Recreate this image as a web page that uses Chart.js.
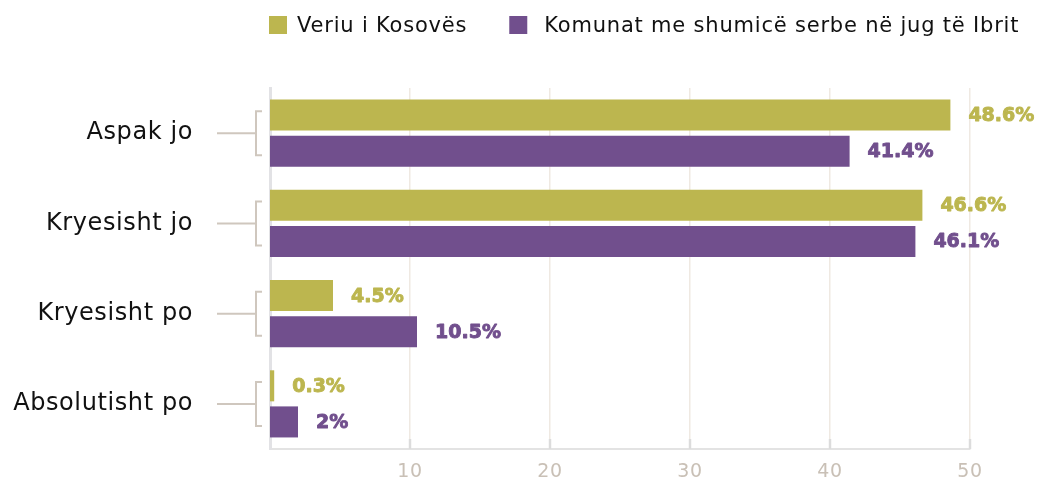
<!DOCTYPE html>
<html>
<head>
<meta charset="utf-8">
<script src="https://cdn.jsdelivr.net/npm/chart.js@4/dist/chart.umd.min.js"></script>
<style>
  html, body { margin: 0; padding: 0; background: #ffffff; overflow: hidden; }
  #wrap { position: relative; width: 1040px; height: 479px; }
</style>
</head>
<body>
<div id="wrap"><canvas id="c"></canvas></div>
<script>
const categories = ['Aspak jo', 'Kryesisht jo', 'Kryesisht po', 'Absolutisht po'];
const seriesNames = ['Veriu i Kosovës', 'Komunat me shumicë serbe në jug të Ibrit'];
const veriuValues = [48.6, 46.6, 4.5, 0.3];
const jugValues = [41.4, 46.1, 10.5, 2];
const xTickValues = [10, 20, 30, 40, 50];

const GREEN = '#bcb64f';
const PURPLE = '#714f8d';
const FONT = "'DejaVu Sans', sans-serif";

const spacingPlugin = {
  id: 'spacing',
  beforeDraw(chart) { chart.ctx.letterSpacing = '0.6px'; },
  beforeDatasetsDraw(chart) { chart.ctx.letterSpacing = '0px'; }
};

const decorPlugin = {
  id: 'decor',
  beforeDatasetsDraw(chart) {
    const ctx = chart.ctx, x = chart.scales.x, area = chart.chartArea;
    ctx.save();
    ctx.strokeStyle = '#dcdcdc';
    ctx.lineWidth = 2.5;
    xTickValues.forEach(v => {
      const px = x.getPixelForValue(v);
      ctx.beginPath();
      ctx.moveTo(px, area.bottom - 10);
      ctx.lineTo(px, area.bottom);
      ctx.stroke();
    });
    ctx.restore();
  },
  afterDraw(chart) {
    const ctx = chart.ctx, y = chart.scales.y;
    ctx.save();
    ctx.strokeStyle = '#cfc7be';
    ctx.lineWidth = 2;
    categories.forEach((c, i) => {
      const yc = y.getPixelForValue(i);
      ctx.beginPath();
      ctx.moveTo(217, yc); ctx.lineTo(256, yc);
      ctx.moveTo(262, yc - 22); ctx.lineTo(256, yc - 22);
      ctx.lineTo(256, yc + 22); ctx.lineTo(262, yc + 22);
      ctx.stroke();
    });
    ctx.restore();
  }
};

const valueLabelPlugin = {
  id: 'valueLabels',
  afterDatasetsDraw(chart) {
    const ctx = chart.ctx;
    ctx.save();
    ctx.letterSpacing = '0px';
    ctx.font = "bold 19px " + FONT;
    ctx.textAlign = 'left';
    ctx.textBaseline = 'middle';
    ctx.lineWidth = 0.9;
    ctx.lineJoin = 'round';
    chart.data.datasets.forEach((ds, di) => {
      const meta = chart.getDatasetMeta(di);
      ctx.fillStyle = ds.backgroundColor;
      ctx.strokeStyle = ds.backgroundColor;
      meta.data.forEach((bar, i) => {
        const t = ds.data[i] + '%';
        ctx.fillText(t, bar.x + 18, bar.y + 1);
        ctx.strokeText(t, bar.x + 18, bar.y + 1);
      });
    });
    ctx.restore();
  }
};

const legendPlugin = {
  id: 'customLegend',
  afterDraw(chart) {
    const ctx = chart.ctx;
    ctx.save();
    ctx.font = "21px " + FONT;
    ctx.letterSpacing = '0.8px';
    ctx.textBaseline = 'middle';
    ctx.textAlign = 'left';
    let x = 269;
    const yTop = 16, size = 18;
    chart.data.datasets.forEach((ds, i) => {
      ctx.fillStyle = ds.backgroundColor;
      ctx.fillRect(x, yTop, size, size);
      const tx = x + (i === 0 ? 28 : 35);
      ctx.fillStyle = '#111111';
      ctx.fillText(ds.label, tx, yTop + size / 2 + 2);
      x = tx + ctx.measureText(ds.label).width + 42;
    });
    ctx.restore();
  }
};

new Chart(document.getElementById('c'), {
  type: 'bar',
  data: {
    labels: categories,
    datasets: [
      { label: seriesNames[0], data: veriuValues, backgroundColor: GREEN, categoryPercentage: 0.8, barPercentage: 0.86 },
      { label: seriesNames[1], data: jugValues, backgroundColor: PURPLE, categoryPercentage: 0.8, barPercentage: 0.86 }
    ]
  },
  options: {
    indexAxis: 'y',
    responsive: true,
    maintainAspectRatio: false,
    animation: false,
    devicePixelRatio: 1,
    layout: { padding: { top: 88, right: 70, left: 0, bottom: 0 } },
    plugins: { legend: { display: false }, tooltip: { enabled: false } },
    scales: {
      x: {
        min: 0, max: 50,
        afterBuildTicks: s => { s.ticks = xTickValues.map(v => ({ value: v })); },
        afterFit: s => { s.height = 30; },
        grid: { color: '#efe9e2', lineWidth: 1.5, drawTicks: false },
        border: { color: '#e3e3e3', width: 2 },
        ticks: { color: '#c9c0b6', font: { family: FONT, size: 19 }, padding: 12 }
      },
      y: {
        afterFit: s => { s.width = 270; s.paddingTop = 0; s.paddingBottom = 0; },
        grid: { display: false, drawTicks: false },
        border: { display: true, color: '#e2e2e5', width: 3 },
        ticks: { color: '#111111', font: { family: FONT, size: 24 }, padding: 77 }
      }
    }
  },
  plugins: [spacingPlugin, decorPlugin, valueLabelPlugin, legendPlugin]
});
</script>
</body>
</html>
